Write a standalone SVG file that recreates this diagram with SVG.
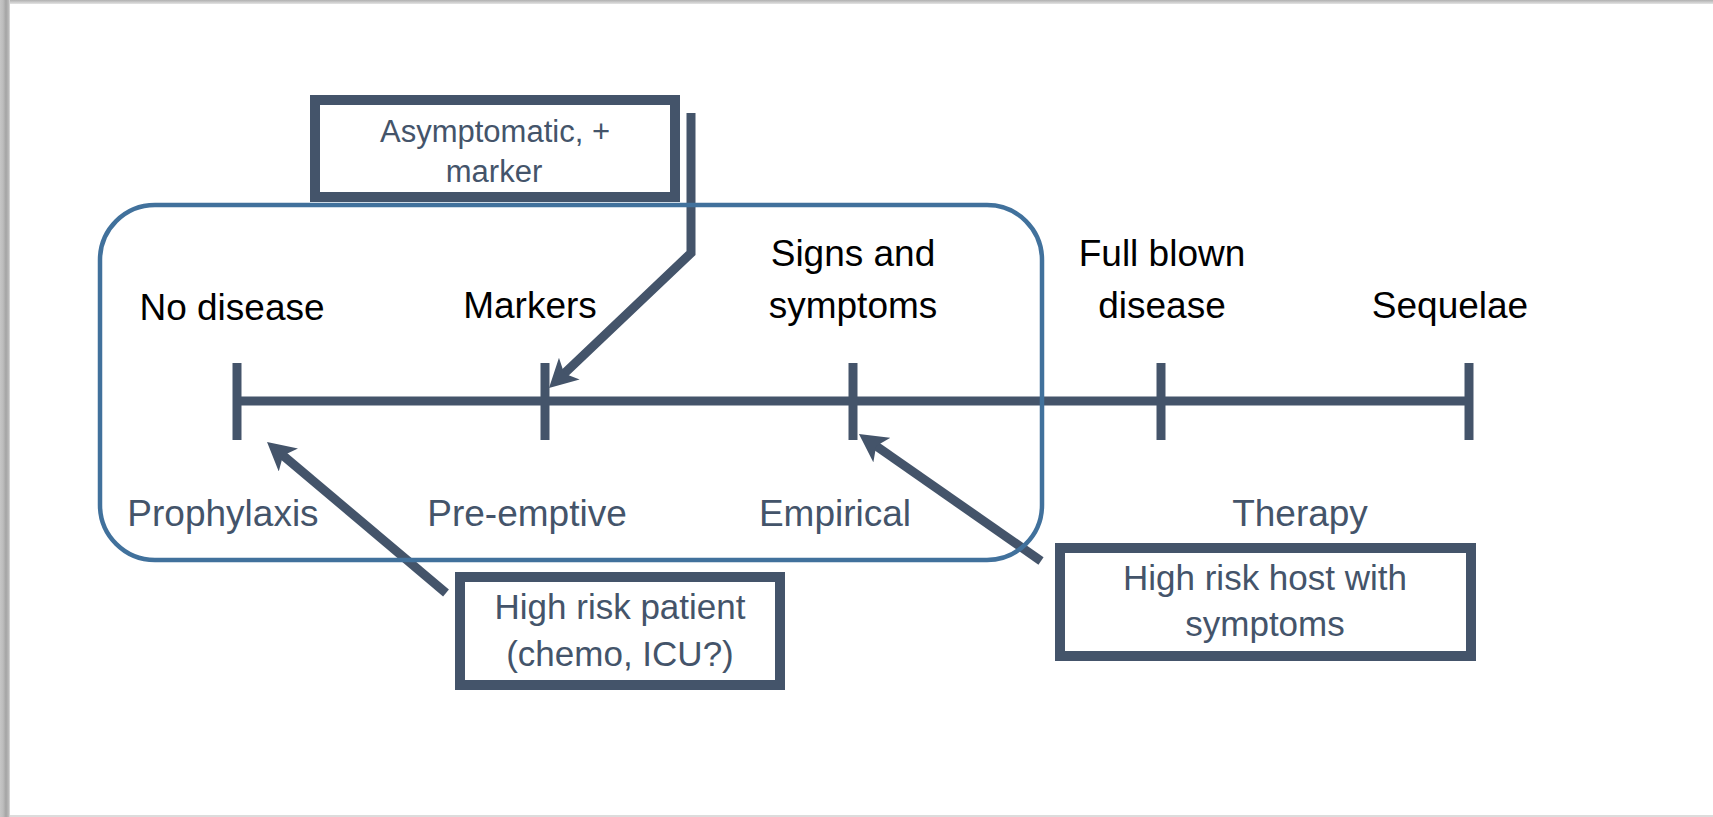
<svg xmlns="http://www.w3.org/2000/svg" width="1713" height="817" viewBox="0 0 1713 817">
  <style>
    .lbl { font-family: "Liberation Sans", Arial, sans-serif; font-size: 37px; fill: #000000; text-anchor: middle; }
    .sub { font-family: "Liberation Sans", Arial, sans-serif; font-size: 37px; fill: #44546A; text-anchor: middle; }
    .btxt { font-family: "Liberation Sans", Arial, sans-serif; fill: #44546A; text-anchor: middle; }
    .box { fill: #ffffff; stroke: #44546A; stroke-width: 10; }
    .tl { stroke: #44546A; stroke-width: 9; fill: none; }
    .arr { stroke: #44546A; stroke-width: 9; fill: none; stroke-linejoin: miter; marker-end: url(#ah); }
    .scope { fill: none; stroke: #41719C; stroke-width: 4.5; }
  </style>
  <defs>
    <marker id="ah" markerUnits="userSpaceOnUse" viewBox="0 0 30 30" markerWidth="30" markerHeight="30" refX="16" refY="15" orient="auto">
      <path d="M28,15 L0,0 L7,15 L0,30 Z" fill="#44546A"/>
    </marker>
    <linearGradient id="gTop" x1="0" y1="0" x2="0" y2="1">
      <stop offset="0" stop-color="#b0b0b0"/>
      <stop offset="1" stop-color="#e4e4e4"/>
    </linearGradient>
    <linearGradient id="gLeft" x1="0" y1="0" x2="1" y2="0">
      <stop offset="0" stop-color="#c6c6c6"/>
      <stop offset="0.3" stop-color="#bdbdbd"/>
      <stop offset="0.6" stop-color="#a4a4a4"/>
      <stop offset="0.85" stop-color="#b8b8b8"/>
      <stop offset="1" stop-color="#dedede"/>
    </linearGradient>
  </defs>

  <rect x="0" y="0" width="1713" height="817" fill="#ffffff"/>
  <g id="frame">
    <rect x="0" y="0" width="1713" height="4" fill="url(#gTop)"/>
    <rect x="0" y="0" width="10" height="817" fill="url(#gLeft)"/>
    <rect x="10" y="815" width="1703" height="2" fill="#dcdcdc"/>
  </g>

  <g id="timeline">
    <line class="tl" x1="237" y1="401" x2="1469" y2="401"/>
    <line class="tl" x1="237" y1="363" x2="237" y2="440"/>
    <line class="tl" x1="545" y1="363" x2="545" y2="440"/>
    <line class="tl" x1="853" y1="363" x2="853" y2="440"/>
    <line class="tl" x1="1161" y1="363" x2="1161" y2="440"/>
    <line class="tl" x1="1469" y1="363" x2="1469" y2="440"/>
  </g>

  <g id="stage-labels">
    <text class="lbl" x="232" y="320">No disease</text>
    <text class="lbl" x="530" y="318">Markers</text>
    <text class="lbl" x="853" y="266">Signs and</text>
    <text class="lbl" x="853" y="318">symptoms</text>
    <text class="lbl" x="1162" y="266">Full blown</text>
    <text class="lbl" x="1162" y="318">disease</text>
    <text class="lbl" x="1450" y="318">Sequelae</text>
  </g>

  <g id="strategy-labels">
    <text class="sub" x="223" y="526">Prophylaxis</text>
    <text class="sub" x="527" y="526">Pre-emptive</text>
    <text class="sub" x="835" y="526">Empirical</text>
    <text class="sub" x="1300" y="526">Therapy</text>
  </g>

  <g id="node-asymptomatic">
    <rect class="box" x="315" y="100" width="360" height="97"/>
    <text class="btxt" x="495" y="142" font-size="31">Asymptomatic, +</text>
    <text class="btxt" x="494" y="182" font-size="31">marker</text>
  </g>

  <g id="node-high-risk-patient">
    <rect class="box" x="460" y="577" width="320" height="108"/>
    <text class="btxt" x="620" y="619" font-size="35">High risk patient</text>
    <text class="btxt" x="620" y="666" font-size="35">(chemo, ICU?)</text>
  </g>

  <g id="node-high-risk-host">
    <rect class="box" x="1060" y="548" width="411" height="108"/>
    <text class="btxt" x="1265" y="590" font-size="35">High risk host with</text>
    <text class="btxt" x="1265" y="636" font-size="35">symptoms</text>
  </g>

  <g id="connectors">
    <polyline class="arr" points="691,113 691,253 557.7,379.7"/>
    <line class="arr" x1="446" y1="593" x2="276.2" y2="449.7"/>
    <line class="arr" x1="1041" y1="561" x2="868.8" y2="440.9"/>
  </g>

  <g id="scope-box">
    <rect class="scope" x="100" y="205" width="942" height="355" rx="55" ry="55"/>
  </g>
</svg>
